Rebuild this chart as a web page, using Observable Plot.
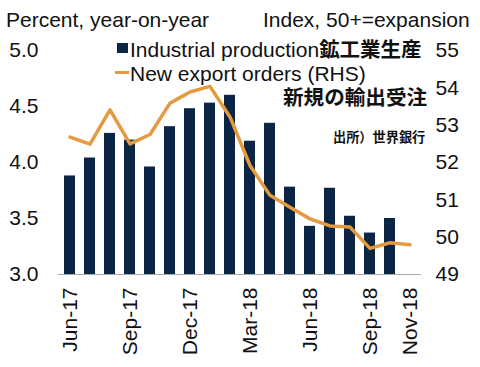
<!DOCTYPE html>
<html><head><meta charset="utf-8">
<script src="https://cdn.jsdelivr.net/npm/d3@7"></script>
<script src="https://cdn.jsdelivr.net/npm/@observablehq/plot@0.6"></script>
<style>
body{margin:0;background:#fff;font-family:"Liberation Sans",Arial,sans-serif;}
#wrap{position:relative;width:480px;height:367px;}
.t{position:absolute;white-space:nowrap;color:#111;line-height:1;}
</style></head><body>
<div id="wrap"></div>
<script>
const months = ["Jun-17","Jul-17","Aug-17","Sep-17","Oct-17","Nov-17","Dec-17","Jan-18","Feb-18","Mar-18","Apr-18","May-18","Jun-18","Jul-18","Aug-18","Sep-18","Oct-18","Nov-18"];
const industrial = [3.88,4.04,4.26,4.20,3.96,4.32,4.48,4.53,4.60,4.19,4.35,3.78,3.43,3.77,3.52,3.37,3.50,null];
const exportOrders = [52.68,52.49,53.41,52.50,52.75,53.59,53.89,54.04,53.22,51.92,51.12,50.80,50.49,50.30,50.27,49.70,49.85,49.80];
const xTicks = ["Jun-17","Sep-17","Dec-17","Mar-18","Jun-18","Sep-18","Nov-18"];
const leftTicks = [3.0,3.5,4.0,4.5,5.0];
const rightTicks = [49,50,51,52,53,54,55];

const toLeft = v => 3 + (v - 49) * (2 / 6);
const bars = months.map((m,i)=>({m, v: industrial[i]})).filter(d=>d.v!=null);
const line = months.map((m,i)=>({m, v: toLeft(exportOrders[i])}));

const chart = Plot.plot({
  width: 480, height: 367,
  marginLeft: 58, marginRight: 59, marginTop: 50, marginBottom: 93,
  style: {fontFamily: '"Liberation Sans", Arial, sans-serif', fontSize: "21px", color: "#111", background: "#fff"},
  x: {type: "band", domain: months, paddingInner: 0.45, paddingOuter: 0.225},
  y: {domain: [3, 5]},
  marks: [
    Plot.barY(bars, {x: "m", y1: 3, y2: "v", fill: "#0b2545"}),
    Plot.ruleY([3], {stroke: "#aaaaaa", strokeWidth: 1}),
    Plot.line(line, {x: "m", y: "v", stroke: "#e49a3f", strokeWidth: 3.5, curve: "linear"}),
    Plot.axisY({anchor: "left", ticks: leftTicks, tickFormat: d => d.toFixed(1), tickSize: 0, tickPadding: 20, fontSize: 21, label: null}),
    Plot.axisY({anchor: "right", ticks: rightTicks.map(toLeft), tickFormat: d => String(Math.round(49 + (d - 3) * 3)), tickSize: 0, tickPadding: 14, fontSize: 21, label: null}),
    Plot.axisX({ticks: xTicks, tickRotate: -90, tickSize: 0, tickPadding: 13, fontSize: 21, label: null})
  ]
});
const wrap = document.getElementById("wrap");
wrap.appendChild(chart);

function addText(txt, left, top, size, weight){
  const d = document.createElement("div");
  d.className = "t"; d.textContent = txt;
  d.style.left = left + "px"; d.style.top = top + "px";
  d.style.fontSize = size + "px"; if (weight) d.style.fontWeight = weight;
  wrap.appendChild(d); return d;
}
addText("Percent, year-on-year", 6, 9, 21);
addText("Index, 50+=expansion", 263, 9, 21);
// legend
const sq = document.createElement("div");
sq.style.cssText = "position:absolute;left:117px;top:43px;width:11px;height:10px;background:#0b2545;";
wrap.appendChild(sq);
const ln = document.createElement("div");
ln.style.cssText = "position:absolute;left:115px;top:71px;width:14px;height:3px;background:#e49a3f;";
wrap.appendChild(ln);
const l1 = addText("Industrial production", 130, 38, 21);
const j1 = document.createElement("span");
j1.textContent = "鉱工業生産"; j1.style.fontFamily = '"Noto Sans CJK JP"'; j1.style.fontWeight = "bold"; j1.style.fontSize = "20.5px";
l1.appendChild(j1);
addText("New export orders (RHS)", 130, 62.5, 21);
const j2 = addText("新規の輸出受注", 283, 86, 20.6, "bold");
j2.style.fontFamily = '"Noto Sans CJK JP"';
const j3 = addText("出所）世界銀行", 333, 130, 13.2, "bold");
j3.style.fontFamily = '"Noto Sans CJK JP"';
</script>
</body></html>
